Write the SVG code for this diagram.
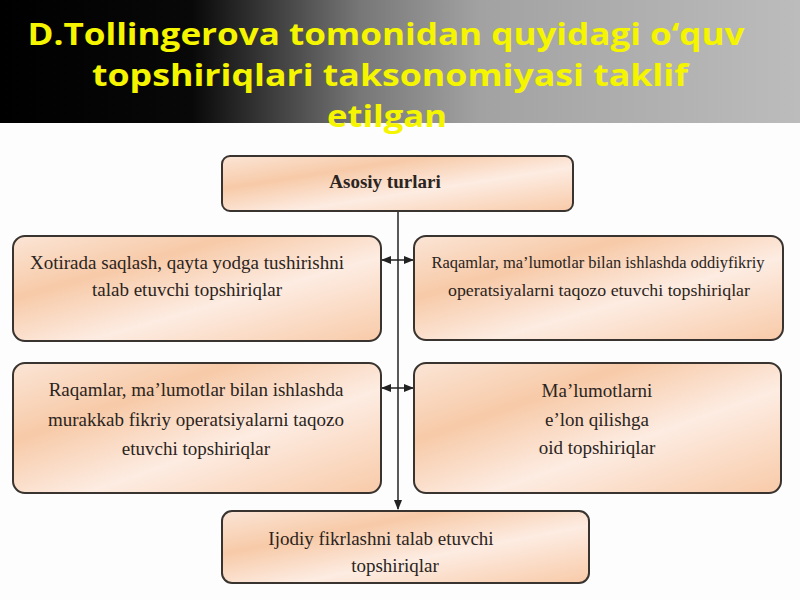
<svg xmlns="http://www.w3.org/2000/svg" width="800" height="600" viewBox="0 0 800 600">
<defs>
<linearGradient id="hdr" x1="0" y1="0" x2="1" y2="0">
<stop offset="0" stop-color="#000"/>
<stop offset="0.24" stop-color="#080808"/>
<stop offset="0.45" stop-color="#777"/>
<stop offset="0.6" stop-color="#a2a2a2"/>
<stop offset="1" stop-color="#bcbcbc"/>
</linearGradient>
<linearGradient id="box" x1="0" y1="0" x2="1" y2="1">
<stop offset="0" stop-color="#fbe5d6"/>
<stop offset="0.3" stop-color="#f7caa8"/>
<stop offset="0.6" stop-color="#fdece2"/>
<stop offset="1" stop-color="#f8caa8"/>
</linearGradient>
<marker id="ah" viewBox="0 0 10 10" refX="9" refY="5" markerWidth="7" markerHeight="7" orient="auto-start-reverse">
<path d="M0,1 L10,5 L0,9 z" fill="#222"/>
</marker>
<style>
.b{fill:url(#box);stroke:#3a3430;stroke-width:2}
.t{font-family:"Liberation Serif",serif;font-size:19px;fill:#2b2420;text-anchor:middle}
.s{font-size:17.5px}
.ttl{font-family:"Open Sans","Noto Sans",sans-serif;font-weight:bold;font-size:30px;fill:#f5f500;text-anchor:middle}
.c{stroke:#222;stroke-width:1.5;fill:none}
</style>
</defs>
<rect x="0" y="0" width="800" height="600" fill="#fdfdfd"/>
<rect x="0" y="0" width="800" height="123" fill="url(#hdr)"/>
<g id="title">
<text class="ttl" x="386" y="45" textLength="717" lengthAdjust="spacingAndGlyphs">D.Tollingerova tomonidan quyidagi o‘quv</text>
<text class="ttl" x="390" y="86" textLength="596" lengthAdjust="spacingAndGlyphs">topshiriqlari taksonomiyasi taklif</text>
<text class="ttl" x="387" y="127" textLength="120" lengthAdjust="spacingAndGlyphs">etilgan</text>
</g>
<g id="connectors">
<line class="c" x1="398" y1="211" x2="398" y2="509" marker-end="url(#ah)"/>
<line class="c" x1="382" y1="260" x2="413" y2="260" marker-start="url(#ah)" marker-end="url(#ah)"/>
<line class="c" x1="382" y1="388" x2="413" y2="388" marker-start="url(#ah)" marker-end="url(#ah)"/>
</g>
<g id="n0">
<rect class="b" x="222" y="156" width="351" height="55" rx="8"/>
<text class="t" x="385" y="188" font-weight="bold">Asosiy turlari</text>
</g>
<g id="n1">
<rect class="b" x="13" y="236" width="368" height="105" rx="12"/>
<text class="t" x="187" y="269">Xotirada saqlash, qayta yodga tushirishni</text>
<text class="t" x="187" y="296">talab etuvchi topshiriqlar</text>
</g>
<g id="n2">
<rect class="b" x="414" y="236" width="369" height="104" rx="12"/>
<text class="t s" x="598" y="268" textLength="333" lengthAdjust="spacingAndGlyphs">Raqamlar, ma’lumotlar bilan ishlashda oddiyfikriy</text>
<text class="t s" x="599" y="296" textLength="302" lengthAdjust="spacingAndGlyphs">operatsiyalarni taqozo etuvchi topshiriqlar</text>
</g>
<g id="n3">
<rect class="b" x="13" y="363" width="368" height="130" rx="12"/>
<text class="t" x="196" y="396">Raqamlar, ma’lumotlar bilan ishlashda</text>
<text class="t" x="196" y="426">murakkab fikriy operatsiyalarni taqozo</text>
<text class="t" x="196" y="455">etuvchi topshiriqlar</text>
</g>
<g id="n4">
<rect class="b" x="414" y="363" width="367" height="130" rx="12"/>
<text class="t" x="597" y="397">Ma’lumotlarni</text>
<text class="t" x="597" y="426">e’lon qilishga</text>
<text class="t" x="597" y="454">oid topshiriqlar</text>
</g>
<g id="n5">
<rect class="b" x="222" y="511" width="367" height="72" rx="10"/>
<text class="t" x="381" y="545">Ijodiy fikrlashni talab etuvchi</text>
<text class="t" x="395" y="572">topshiriqlar</text>
</g>
</svg>
